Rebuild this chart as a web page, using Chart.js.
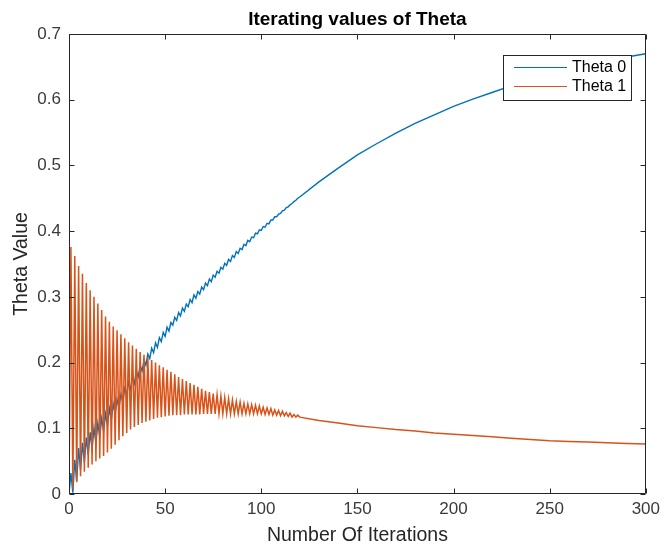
<!DOCTYPE html>
<html>
<head>
<meta charset="utf-8">
<script src="https://cdn.jsdelivr.net/npm/chart.js@4"></script>
<style>
  html, body { margin: 0; padding: 0; background: #fff; }
  #c { display: block; }
</style>
</head>
<body>
<canvas id="c" width="665" height="547"></canvas>
<script>
// Iteration numbers: every step up to 120, then every 10th step
const iterations = [...Array(121).keys()].concat(
  [130, 140, 150, 160, 170, 180, 190, 200, 210, 220, 230, 240, 250, 260, 270, 280, 290, 300]);

const theta0Values = [
  0.000,0.032,0.002,0.052,0.019,0.070,0.036,0.078,0.048,0.086,
  0.059,0.094,0.068,0.101,0.077,0.108,0.087,0.115,0.095,0.122,
  0.104,0.130,0.113,0.137,0.122,0.144,0.131,0.152,0.140,0.161,
  0.150,0.170,0.159,0.178,0.168,0.187,0.178,0.196,0.187,0.204,
  0.196,0.213,0.206,0.222,0.215,0.230,0.223,0.238,0.232,0.246,
  0.240,0.254,0.248,0.261,0.257,0.269,0.264,0.276,0.271,0.283,
  0.278,0.289,0.285,0.296,0.291,0.303,0.298,0.308,0.304,0.315,
  0.311,0.321,0.317,0.327,0.323,0.333,0.330,0.339,0.336,0.345,
  0.342,0.351,0.348,0.357,0.354,0.363,0.360,0.369,0.366,0.374,
  0.372,0.380,0.378,0.386,0.384,0.391,0.390,0.397,0.396,0.402,
  0.401,0.407,0.406,0.412,0.411,0.417,0.417,0.422,0.422,0.426,
  0.427,0.431,0.432,0.436,0.437,0.440,0.442,0.445,0.447,0.450,
  0.452,
  0.475,0.496,0.516,0.533,0.549,0.564,0.577,0.590,0.601,
  0.611,0.621,0.630,0.638,0.646,0.653,0.659,0.665,0.670
];

const theta1Values = [
  0.000,0.376,0.008,0.362,0.018,0.347,0.027,0.335,0.034,0.321,
  0.040,0.310,0.045,0.300,0.050,0.290,0.054,0.280,0.058,0.270,
  0.063,0.262,0.069,0.255,0.075,0.249,0.082,0.243,0.088,0.237,
  0.093,0.231,0.098,0.226,0.102,0.221,0.105,0.216,0.108,0.212,
  0.110,0.208,0.112,0.204,0.114,0.200,0.116,0.196,0.117,0.193,
  0.118,0.189,0.119,0.186,0.120,0.182,0.120,0.178,0.120,0.175,
  0.121,0.172,0.121,0.169,0.121,0.166,0.121,0.163,0.121,0.160,
  0.122,0.157,0.122,0.155,0.122,0.153,0.122,0.151,0.122,0.149,
  0.122,0.147,0.122,0.145,0.122,0.143,0.122,0.141,0.122,0.140,
  0.122,0.138,0.122,0.137,0.122,0.136,0.122,0.135,0.122,0.134,
  0.122,0.132,0.121,0.131,0.121,0.130,0.120,0.128,0.120,0.127,
  0.119,0.126,0.119,0.124,0.118,0.123,0.117,0.121,0.117,0.120,
  0.117,
  0.112,0.108,0.104,0.101,0.098,0.096,0.093,0.091,0.089,
  0.087,0.085,0.083,0.081,0.080,0.079,0.078,0.077,0.076
];

const xTicks = [0, 50, 100, 150, 200, 250, 300];
const yTicks = [0, 0.1, 0.2, 0.3, 0.4, 0.5, 0.6, 0.7];
const seriesNames = ['Theta 0', 'Theta 1'];
const seriesColors = ['#0072BD', '#D95319'];

const FONT = '"Liberation Sans", Arial, Helvetica, sans-serif';
const AXIS_COLOR = '#262626';

const toPoints = vals => vals.map((v, i) => ({ x: iterations[i], y: v }));

// Box around the plot area with inward ticks on all four sides, plus the title
const axesBox = {
  id: 'axesBox',
  afterDatasetsDraw(chart) {
    const { ctx, chartArea: a, scales: { x, y } } = chart;
    const len = 5;
    ctx.save();
    ctx.strokeStyle = AXIS_COLOR;
    ctx.lineWidth = 1;
    const L = Math.round(a.left) + 0.5, R = Math.round(a.right) - 0.5;
    const T = Math.round(a.top) + 0.5, B = Math.round(a.bottom) - 0.5;
    ctx.beginPath();
    ctx.rect(L, T, R - L, B - T);
    xTicks.forEach(v => {
      const px = Math.round(x.getPixelForValue(v)) + 0.5;
      ctx.moveTo(px, B); ctx.lineTo(px, B - len);
      ctx.moveTo(px, T); ctx.lineTo(px, T + len);
    });
    yTicks.forEach(v => {
      const py = Math.round(y.getPixelForValue(v)) + 0.5;
      ctx.moveTo(L, py); ctx.lineTo(L + len, py);
      ctx.moveTo(R, py); ctx.lineTo(R - len, py);
    });
    ctx.stroke();

    ctx.fillStyle = '#000';
    ctx.font = 'bold 19px ' + FONT;
    ctx.textAlign = 'center';
    ctx.textBaseline = 'alphabetic';
    ctx.fillText('Iterating values of Theta', (a.left + a.right) / 2, 25);
    ctx.restore();
  }
};

// Legend box in the upper right corner of the plot
const cornerLegend = {
  id: 'cornerLegend',
  afterDraw(chart) {
    const { ctx } = chart;
    const bx = 503, by = 55, bw = 129, bh = 46;
    ctx.save();
    ctx.fillStyle = '#fff';
    ctx.fillRect(bx, by, bw, bh);
    ctx.strokeStyle = AXIS_COLOR;
    ctx.lineWidth = 1;
    ctx.strokeRect(bx + 0.5, by + 0.5, bw - 1, bh - 1);
    ctx.font = '16px ' + FONT;
    ctx.textAlign = 'left';
    ctx.textBaseline = 'middle';
    chart.data.datasets.forEach((ds, i) => {
      const cy = by + 12 + i * 19;
      ctx.strokeStyle = ds.borderColor;
      ctx.lineWidth = 1.2;
      ctx.beginPath();
      ctx.moveTo(514, cy + 0.5);
      ctx.lineTo(567, cy + 0.5);
      ctx.stroke();
      ctx.fillStyle = '#000';
      ctx.fillText(ds.label, 572, cy + 1);
    });
    ctx.restore();
  }
};

new Chart(document.getElementById('c'), {
  type: 'line',
  data: {
    datasets: [
      { label: seriesNames[0], data: toPoints(theta0Values), borderColor: seriesColors[0],
        borderWidth: 1.4, pointRadius: 0, tension: 0, order: 2 },
      { label: seriesNames[1], data: toPoints(theta1Values), borderColor: seriesColors[1],
        borderWidth: 1.5, pointRadius: 0, tension: 0, order: 1 }
    ]
  },
  options: {
    responsive: false,
    animation: false,
    devicePixelRatio: 1,
    layout: { padding: { top: 34, right: 16, left: 0, bottom: 0 } },
    plugins: { legend: { display: false }, title: { display: false }, tooltip: { enabled: false } },
    scales: {
      x: {
        type: 'linear', min: 0, max: 300,
        afterFit(s) { s.height = 53; },
        afterBuildTicks(s) { s.ticks = xTicks.map(v => ({ value: v })); },
        grid: { display: false, drawTicks: false },
        border: { display: false },
        ticks: { padding: 5, color: '#3a3a3a', font: { family: FONT, size: 17 } },
        title: { display: true, text: 'Number Of Iterations', color: AXIS_COLOR,
                 font: { family: FONT, size: 19.5 }, padding: { top: 0, bottom: 0 } }
      },
      y: {
        min: 0, max: 0.7,
        afterFit(s) { s.width = 69; },
        afterBuildTicks(s) { s.ticks = yTicks.map(v => ({ value: v })); },
        grid: { display: false, drawTicks: false },
        border: { display: false },
        ticks: { padding: 8, color: '#3a3a3a', font: { family: FONT, size: 17 } },
        title: { display: true, text: 'Theta Value', color: AXIS_COLOR,
                 font: { family: FONT, size: 19.5 }, padding: { top: 10, bottom: 0 } }
      }
    }
  },
  plugins: [axesBox, cornerLegend]
});
</script>
</body>
</html>
